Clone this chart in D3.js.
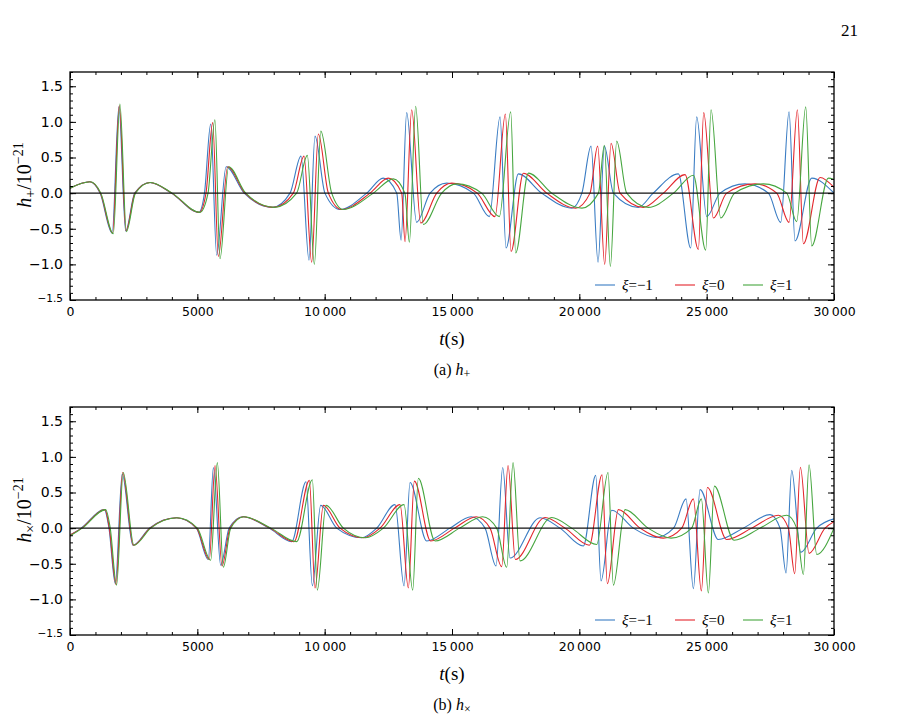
<!DOCTYPE html>
<html><head><meta charset="utf-8">
<script src="https://cdn.jsdelivr.net/npm/d3@7"></script>
<style>body{margin:0;background:#fff}svg{display:block}</style>
</head><body>
<svg id="c" width="898" height="727"></svg>
<script>
// ---------- data ----------
const tTicks = [0, 5000, 10000, 15000, 20000, 25000, 30000];
const tTickLabels = ["0", "5000", "10\u2009000", "15\u2009000", "20\u2009000", "25\u2009000", "30\u2009000"];
const hTicks = [-1.5, -1.0, -0.5, 0, 0.5, 1.0, 1.5];
const hTickLabels = ["\u22121.5", "\u22121.0", "\u22120.5", "0.0", "0.5", "1.0", "1.5"];
const xiLabels = ["\u22121", "0", "1"];
const seriesColors = ["#3a7cc3", "#e3262c", "#46a63f"];

// h+ panel, [t (s), h/1e-21]
const plusXiM1 = [[0,0.07],[770,0.16],[1180,0],[1655,-0.56],[1920,1.21],[2185,-0.53],[2540,0],[3130,0.15],[3980,0],[5060,-0.27],[5280,0],[5525,0.97],[5760,-0.87],[6130,0.37],[6840,0],[7950,-0.2],[8640,0],[9070,0.52],[9385,-0.94],[9620,0.80],[10010,0],[10600,-0.23],[11650,0],[12300,0.21],[12830,0],[13000,-0.66],[13220,1.13],[13610,-0.41],[14140,0],[14790,0.14],[15840,0],[16467,-0.33],[16886,1.07],[17122,-0.77],[17606,0.27],[18522,0],[19700,-0.21],[20100,0],[20460,0.66],[20735,-0.97],[20983,0.66],[21337,0],[22318,-0.2],[22900,0],[23889,0.27],[24373,-0.77],[24609,1.07],[25002,-0.33],[25525,0],[26507,0.13],[27423,0],[27908,-0.41],[28235,1.14],[28470,-0.67],[29125,0.21],[30000,0.0]];
const plusXi0 = [[0,0.07],[785,0.16],[1195,0],[1676,-0.56],[1937,1.23],[2199,-0.53],[2553,0],[3142,0.15],[3993,0],[5079,-0.27],[5340,0],[5603,0.99],[5825,-0.89],[6192,0.37],[6872,0],[7985,-0.2],[8770,0],[9189,0.52],[9490,-0.97],[9752,0.83],[10145,0],[10668,-0.23],[11781,0],[12501,0.21],[13024,0],[13155,-0.68],[13417,1.17],[13771,-0.42],[14399,0],[14988,0.14],[15990,0],[16690,-0.33],[17096,1.11],[17318,-0.82],[17802,0.28],[18719,0],[19850,-0.21],[20420,0],[20721,0.66],[20996,-1.0],[21245,0.70],[21598,0],[22515,-0.2],[23300,0],[24151,0.26],[24674,-0.79],[24884,1.13],[25263,-0.35],[25787,0],[26900,0.13],[27750,0],[28235,-0.41],[28562,1.17],[28798,-0.71],[29452,0.22],[30000,0.08]];
const plusXiP1 = [[0,0.07],[800,0.16],[1210,0],[1700,-0.57],[1960,1.25],[2215,-0.54],[2570,0],[3160,0.15],[4010,0],[5100,-0.27],[5420,0],[5690,1.03],[5890,-0.92],[6230,0.37],[6900,0],[8020,-0.2],[8900,0],[9320,0.53],[9595,-1.0],[9850,0.87],[10276,0],[10730,-0.23],[11912,0],[12697,0.20],[13150,0],[13326,-0.69],[13574,1.22],[13875,-0.44],[14595,0],[15185,0.13],[16166,0],[16860,-0.33],[17305,1.14],[17501,-0.84],[18000,0.28],[18915,0],[20100,-0.21],[20750,0],[20983,0.67],[21219,-1.03],[21468,0.73],[21860,0],[22711,-0.2],[23700,0],[24478,0.25],[24962,-0.80],[25172,1.17],[25551,-0.35],[26100,0],[27227,0.13],[28143,0],[28536,-0.40],[28889,1.21],[29125,-0.74],[29779,0.21],[30000,0.19]];

// hx panel
const crossXiM1 = [[0,-0.10],[440,0],[1350,0.26],[1530,0],[1780,-0.78],[2050,0.76],[2470,-0.24],[3120,0],[4170,0.145],[4960,0],[5430,-0.44],[5630,0.85],[5917,-0.52],[6250,0],[6780,0.16],[7820,0],[8705,-0.19],[9268,0.65],[9517,-0.81],[9844,0.32],[10472,0],[11450,-0.135],[12043,0],[12763,0.33],[13116,-0.81],[13352,0.64],[14006,-0.18],[14923,0],[15750,0.16],[16297,0],[16729,-0.53],[16991,0.85],[17279,-0.42],[18457,0.145],[19242,0],[20159,-0.25],[20643,0.74],[20852,-0.74],[21271,0.25],[22120,0],[23000,-0.13],[23700,0],[24190,0.41],[24478,-0.85],[24740,0.54],[25460,-0.16],[26441,0],[27489,0.19],[27881,0],[28117,-0.63],[28340,0.81],[28693,-0.34],[29321,0],[30000,0.13]];
const crossXi0 = [[0,-0.10],[458,0],[1374,0.26],[1545,0],[1806,-0.79],[2068,0.78],[2487,-0.24],[3142,0],[4189,0.145],[4974,0],[5472,-0.44],[5694,0.88],[5969,-0.53],[6283,0],[6807,0.16],[7854,0],[8796,-0.19],[9399,0.67],[9621,-0.84],[9948,0.32],[10603,0],[11519,-0.135],[12174,0],[12959,0.33],[13286,-0.84],[13522,0.66],[14163,-0.18],[15100,0],[15950,0.16],[16493,0],[16952,-0.54],[17200,0.88],[17488,-0.44],[18653,0.15],[19439,0],[20394,-0.24],[20892,0.75],[21101,-0.78],[21533,0.26],[22384,0],[23300,-0.14],[24020,0],[24478,0.41],[24792,-0.88],[25028,0.57],[25787,-0.16],[26768,0],[27816,0.18],[28209,0],[28457,-0.64],[28680,0.855],[29020,-0.355],[29648,0],[30000,0.09]];
const crossXiP1 = [[0,-0.11],[480,0],[1400,0.26],[1580,0],[1830,-0.80],[2090,0.78],[2510,-0.24],[3170,0],[4210,0.145],[5000,0],[5524,-0.45],[5786,0.92],[6021,-0.55],[6310,0],[6830,0.16],[7890,0],[8901,-0.19],[9517,0.68],[9713,-0.87],[10053,0.32],[10734,0],[11600,-0.135],[12305,0],[13116,0.33],[13457,-0.87],[13679,0.70],[14334,-0.18],[15300,0],[16200,0.16],[16755,0],[17148,-0.55],[17397,0.92],[17672,-0.46],[18915,0.15],[19700,0],[20682,-0.23],[21127,0.78],[21337,-0.80],[21795,0.26],[22700,0],[23600,-0.14],[24410,0],[24792,0.41],[25067,-0.91],[25303,0.59],[26075,-0.17],[27096,0],[28143,0.18],[28536,0],[28798,-0.65],[29020,0.89],[29321,-0.37],[30000,0.0]];

// ---------- drawing ----------
const svg = d3.select("#c");
svg.append("rect").attr("width", 898).attr("height", 727).attr("fill", "#fff");
const serif = "'Liberation Serif','DejaVu Serif',serif";
const sans = "'DejaVu Sans','Liberation Sans',sans-serif";

svg.append("text").attr("x", 858).attr("y", 36).attr("text-anchor", "end")
  .attr("font-family", serif).attr("font-size", 17).text("21");

const L = 70, R = 834;
const x = d3.scaleLinear().domain([0, 30000]).range([L, R]);

const panels = [
  {top: 72, bottom: 300, sub: "+", cap: "(a) ", data: [plusXiM1, plusXi0, plusXiP1]},
  {top: 407, bottom: 635, sub: "\u00d7", cap: "(b) ", data: [crossXiM1, crossXi0, crossXiP1]}
];

panels.forEach((p, pi) => {
  const y = d3.scaleLinear().domain([-1.5, 1.7]).range([p.bottom, p.top]);
  const g = svg.append("g");
  const cid = "clip" + pi;
  g.append("clipPath").attr("id", cid).append("rect")
    .attr("x", L).attr("y", p.top).attr("width", R - L).attr("height", p.bottom - p.top);

  const line = d3.line().x(d => x(d[0])).y(d => y(d[1])).curve(d3.curveMonotoneX);
  const lg = g.append("g").attr("clip-path", `url(#${cid})`);
  p.data.forEach((s, i) => {
    lg.append("path").attr("d", line(s)).attr("fill", "none")
      .attr("stroke", seriesColors[i]).attr("stroke-width", 1.1);
  });
  lg.append("line").attr("x1", x(0)).attr("x2", x(30000)).attr("y1", y(0)).attr("y2", y(0))
    .attr("stroke", "#111").attr("stroke-width", 1.1);

  // axes
  const minorT = d3.range(0, 30001, 1000);
  const minorH = d3.range(-15, 18).map(v => v / 10);
  const fmtT = d => tTickLabels[tTicks.indexOf(d)];
  const fmtH = d => hTickLabels[hTicks.indexOf(d)];

  const addAxis = (axis, tx, ty) => {
    const a = g.append("g").attr("transform", `translate(${tx},${ty})`).call(axis);
    a.select(".domain").remove();
    a.selectAll("line").attr("stroke", "#000").attr("stroke-width", 1);
    a.selectAll("text").attr("font-family", sans).attr("fill", "#000");
    return a;
  };
  addAxis(d3.axisBottom(x).tickValues(minorT).tickFormat("").tickSizeInner(-3).tickSizeOuter(0), 0, p.bottom);
  addAxis(d3.axisTop(x).tickValues(minorT).tickFormat("").tickSizeInner(-3).tickSizeOuter(0), 0, p.top);
  addAxis(d3.axisLeft(y).tickValues(minorH).tickFormat("").tickSizeInner(-3).tickSizeOuter(0), L, 0);
  addAxis(d3.axisRight(y).tickValues(minorH).tickFormat("").tickSizeInner(-3).tickSizeOuter(0), R, 0);
  const bx = addAxis(d3.axisBottom(x).tickValues(tTicks).tickFormat(fmtT).tickSizeInner(-6).tickSizeOuter(0).tickPadding(7), 0, p.bottom);
  bx.selectAll("text").attr("font-size", 12.5);
  addAxis(d3.axisTop(x).tickValues(tTicks).tickFormat("").tickSizeInner(-6).tickSizeOuter(0), 0, p.top);
  const ly = addAxis(d3.axisLeft(y).tickValues(hTicks).tickFormat(fmtH).tickSizeInner(-6).tickSizeOuter(0).tickPadding(7), L, 0);
  ly.selectAll("text").attr("font-size", 14);
  ly.selectAll(".tick").filter(d => d === -1.5).select("text").attr("font-size", 10.5).attr("dy", "0.1em");
  addAxis(d3.axisRight(y).tickValues(hTicks).tickFormat("").tickSizeInner(-6).tickSizeOuter(0), R, 0);

  g.append("rect").attr("x", L).attr("y", p.top).attr("width", R - L).attr("height", p.bottom - p.top)
    .attr("fill", "none").attr("stroke", "#000").attr("stroke-width", 1.3);

  // legend
  const legY = p.bottom - 15;
  const legX = [595, 675, 743];
  xiLabels.forEach((lab, i) => {
    g.append("line").attr("x1", legX[i]).attr("x2", legX[i] + 20).attr("y1", legY).attr("y2", legY)
      .attr("stroke", seriesColors[i]).attr("stroke-width", 1.1);
    const t = g.append("text").attr("x", legX[i] + 27).attr("y", legY + 5)
      .attr("font-family", serif).attr("font-size", 15);
    t.append("tspan").attr("font-style", "italic").text("\u03be");
    t.append("tspan").text("=" + lab);
  });

  // y label
  const yl = g.append("text").attr("transform", `translate(31,${(p.top + p.bottom) / 2 - 11}) rotate(-90)`)
    .attr("text-anchor", "middle").attr("font-family", serif).attr("font-size", 20);
  yl.append("tspan").attr("font-style", "italic").text("h");
  yl.append("tspan").attr("font-size", 14).attr("dy", 4).text(p.sub);
  yl.append("tspan").attr("dy", -4).text("/10");
  yl.append("tspan").attr("font-size", 14).attr("dy", -8).text("\u221221");

  // x label
  const xl = g.append("text").attr("x", (L + R) / 2).attr("y", p.bottom + 45).attr("text-anchor", "middle")
    .attr("font-family", serif).attr("font-size", 19);
  xl.append("tspan").attr("font-style", "italic").text("t");
  xl.append("tspan").text("(s)");

  // caption
  const cp = g.append("text").attr("x", (L + R) / 2).attr("y", p.bottom + 75).attr("text-anchor", "middle")
    .attr("font-family", serif).attr("font-size", 16);
  cp.append("tspan").text(p.cap);
  cp.append("tspan").attr("font-style", "italic").text("h");
  cp.append("tspan").attr("font-size", 12).attr("dy", 3).text(p.sub);
});
</script>
</body></html>
